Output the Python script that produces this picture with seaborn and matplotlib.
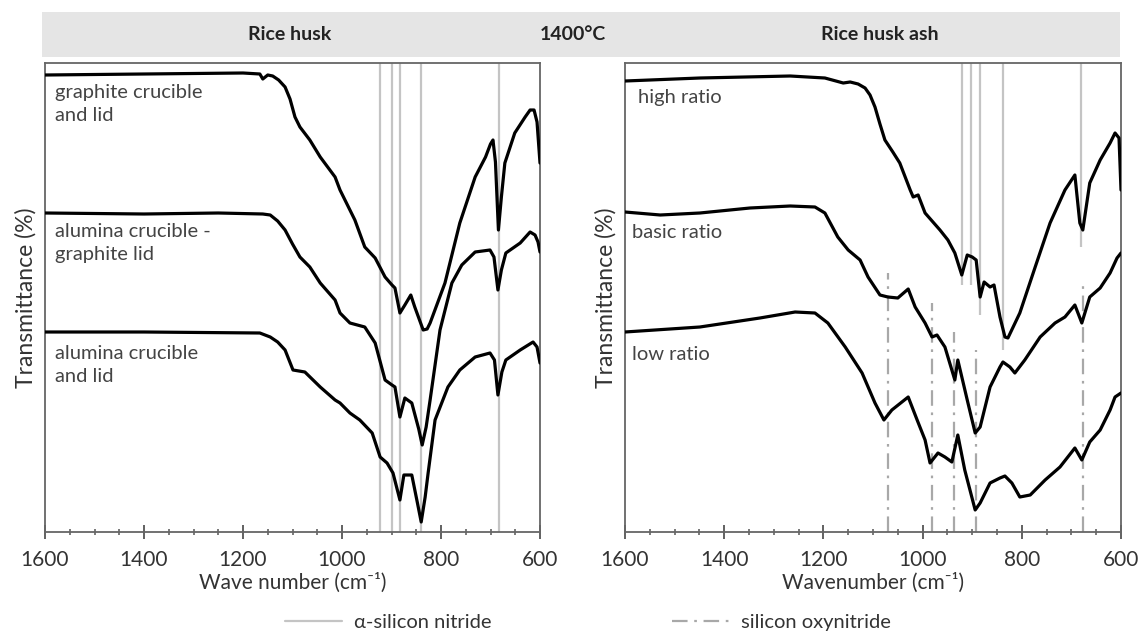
import numpy as np
import pandas as pd
import matplotlib
matplotlib.use("Agg")
import matplotlib.pyplot as plt
from matplotlib.patches import Rectangle
from matplotlib.lines import Line2D
from matplotlib.ticker import MultipleLocator
import seaborn as sns

# ---- data (y = relative transmittance, arbitrary units) ----
# rice husk panel
rh_graphite_wn = [1600, 1400, 1200, 1166, 1160, 1150, 1140, 1128, 1115, 1105, 1095, 1085, 1065, 1044, 1014,
                  1004, 974, 954, 933, 913, 899, 893, 883, 873, 861, 853, 836, 828, 822, 792, 762, 731,
                  710, 700, 695, 690, 684, 678, 671, 651, 630, 620, 612, 606, 600]
rh_graphite_t = [457, 458, 459, 458, 453, 457, 456, 452, 445, 433, 415, 405, 392, 375, 355,
                 342, 312, 285, 274, 255, 247, 244, 219, 227, 237, 225, 202, 203, 209, 249, 309, 355,
                 375, 388, 392, 370, 302, 335, 369, 399, 415, 422, 422, 410, 369]

rh_mixed_wn = [1600, 1400, 1250, 1160, 1145, 1130, 1115, 1100, 1085, 1065, 1044, 1014, 1004, 984, 954, 933,
               913, 899, 893, 883, 873, 859, 845, 838, 830, 822, 802, 778, 758, 731, 701, 693, 685,
               678, 669, 640, 620, 610, 604, 600]
rh_mixed_t = [319, 318, 319, 318, 317, 311, 302, 288, 275, 265, 249, 232, 219, 209, 205, 189,
              152, 147, 145, 115, 134, 129, 103, 87, 105, 132, 202, 249, 267, 280, 282, 275, 242,
              262, 279, 289, 300, 297, 290, 280]

rh_alumina_wn = [1600, 1400, 1166, 1145, 1130, 1115, 1099, 1075, 1044, 1014, 1004, 984, 964, 939, 923, 909,
                 897, 883, 875, 859, 848, 840, 832, 826, 812, 786, 762, 731, 701, 692, 685, 677, 669,
                 640, 614, 606, 600]
rh_alumina_t = [200, 200, 199, 195, 190, 182, 162, 160, 145, 132, 129, 119, 112, 99, 75, 69,
                59, 32, 57, 57, 30, 10, 35, 59, 112, 145, 162, 175, 179, 172, 137, 160, 172,
                182, 190, 185, 169]

# rice husk ash panel
rha_high_wn = [1600, 1449, 1267, 1197, 1160, 1146, 1130, 1116, 1106, 1096, 1086, 1076, 1060, 1046, 1025,
               1019, 1009, 995, 965, 949, 935, 921, 910, 900, 892, 884, 876, 864, 856, 844, 834, 828,
               804, 773, 743, 713, 693, 683, 677, 663, 642, 622, 612, 604, 600]
rha_high_t = [451, 454, 456, 454, 449, 450, 448, 444, 437, 425, 408, 392, 380, 369, 342,
              335, 337, 319, 302, 292, 279, 257, 277, 275, 272, 235, 250, 245, 247, 215, 195, 194,
              219, 265, 309, 342, 357, 309, 302, 349, 372, 389, 399, 394, 342]

rha_basic_wn = [1600, 1529, 1449, 1348, 1267, 1217, 1197, 1171, 1150, 1126, 1110, 1086, 1070, 1050, 1029,
                1015, 995, 981, 971, 955, 935, 929, 910, 894, 884, 864, 844, 838, 824, 814, 794, 763,
                733, 713, 693, 679, 663, 642, 622, 608, 600]
rha_basic_t = [320, 317, 319, 324, 326, 325, 319, 295, 282, 272, 255, 237, 235, 234, 243,
               225, 209, 195, 197, 185, 152, 172, 132, 99, 105, 145, 165, 170, 165, 159, 172, 195,
               209, 215, 227, 209, 235, 244, 259, 274, 279]

rha_low_wn = [1600, 1449, 1328, 1257, 1217, 1191, 1156, 1122, 1096, 1078, 1062, 1029, 1011, 995, 985, 969,
              955, 941, 929, 915, 894, 884, 864, 844, 834, 820, 804, 783, 753, 723, 693, 679, 663,
              642, 622, 612, 600]
rha_low_t = [200, 205, 214, 220, 219, 209, 185, 159, 129, 112, 122, 135, 112, 92, 69, 79,
             75, 70, 97, 62, 22, 29, 49, 54, 56, 49, 35, 37, 52, 65, 84, 72, 90,
             102, 122, 135, 139]

# reference band positions (cm-1) and how far down / up they are drawn
nitride_left = [923, 900, 882, 840, 683]
nitride_right = [921, 902, 884, 838, 681]
nitride_right_bottom = [247, 247, 217, 182, 285]
oxynitride_right = [1070, 981, 937, 892, 677]
oxynitride_right_top = [259, 229, 200, 182, 249]

left_labels = ["graphite crucible\nand lid", "alumina crucible -\ngraphite lid", "alumina crucible\nand lid"]
left_label_y = [428, 289, 167]
right_labels = ["high ratio", "basic ratio", "low ratio"]
right_label_y = [434, 299, 177]

sns.set_theme(style="white")
plt.rcParams['font.family'] = ['Lato', 'DejaVu Sans']

fig = plt.figure(figsize=(11.46, 6.4), dpi=100)
ax1 = fig.add_axes([45 / 1146, 1 - 532 / 640, 495 / 1146, 469 / 640])
ax2 = fig.add_axes([625 / 1146, 1 - 532 / 640, 496 / 1146, 469 / 640])

grey = "#c4c4c4"
dashdot = (0, (7, 3, 1.2, 3))

for wn, t in [(rh_graphite_wn, rh_graphite_t), (rh_mixed_wn, rh_mixed_t), (rh_alumina_wn, rh_alumina_t)]:
    sns.lineplot(x=wn, y=t, ax=ax1, color="black", lw=2.3, estimator=None, sort=False, zorder=3)
for wn, t in [(rha_high_wn, rha_high_t), (rha_basic_wn, rha_basic_t), (rha_low_wn, rha_low_t)]:
    sns.lineplot(x=wn, y=t, ax=ax2, color="black", lw=2.3, estimator=None, sort=False, zorder=3)

for w in nitride_left:
    ax1.axvline(w, color=grey, lw=1.6, zorder=1)
for w, lo in zip(nitride_right, nitride_right_bottom):
    ax2.vlines(w, lo, 469, color=grey, lw=1.6, zorder=1)
for w, hi in zip(oxynitride_right, oxynitride_right_top):
    ax2.vlines(w, 0, hi, color="#a8a8a8", lw=1.6, linestyles=[dashdot], zorder=1)

for lab, y in zip(left_labels, left_label_y):
    ax1.text(1580, y, lab, fontsize=14.5, color="#444444", va="center", ha="left", linespacing=1.4)
for lab, y, x in zip(right_labels, right_label_y, [1574, 1586, 1586]):
    ax2.text(x, y, lab, fontsize=14.5, color="#444444", va="center", ha="left")

for ax, xl in [(ax1, "Wave number (cm⁻¹)"), (ax2, "Wavenumber (cm⁻¹)")]:
    ax.set_xlim(1600, 600)
    ax.set_ylim(0, 469)
    ax.xaxis.set_major_locator(MultipleLocator(200))
    ax.xaxis.set_minor_locator(MultipleLocator(50))
    ax.tick_params(axis="x", which="major", direction="inout", length=10, width=1.3,
                   color="#555555", labelsize=15, labelcolor="#333333", pad=8, bottom=True)
    ax.tick_params(axis="x", which="minor", direction="inout", length=5, width=1.1,
                   color="#555555", bottom=True)
    ax.set_yticks([])
    ax.set_xlabel(xl, fontsize=15, color="#333333", labelpad=2)
    ax.set_ylabel("Transmittance (%)", fontsize=16.5, color="#333333", labelpad=6)
    for s in ax.spines.values():
        s.set_color("#666666")
        s.set_linewidth(1.3)

# header band
fig.patches.append(Rectangle((42 / 1146, 1 - 57 / 640), (1120 - 42) / 1146, 45 / 640,
                             transform=fig.transFigure, facecolor="#e5e5e5", edgecolor="none", zorder=0))
fig.text(290 / 1146, 1 - 35 / 640, "Rice husk", fontsize=14, fontweight="bold", color="#222222",
         ha="center", va="center")
fig.text(573 / 1146, 1 - 35 / 640, "1400°C", fontsize=14, fontweight="bold", color="#222222",
         ha="center", va="center")
fig.text(880 / 1146, 1 - 35 / 640, "Rice husk ash", fontsize=14, fontweight="bold", color="#222222",
         ha="center", va="center")

handles = [Line2D([], [], color=grey, lw=1.6),
           Line2D([], [], color="#a8a8a8", lw=1.6, linestyle=dashdot)]
fig.legend(handles, ["α-silicon nitride", "silicon oxynitride"], loc="center",
           bbox_to_anchor=(0.513, 1 - 622 / 640), ncol=2, frameon=False, fontsize=14.5,
           handlelength=2.8, handletextpad=0.6, columnspacing=9.0, labelcolor="#333333")

fig.savefig("out.png", dpi=100, facecolor="white")
